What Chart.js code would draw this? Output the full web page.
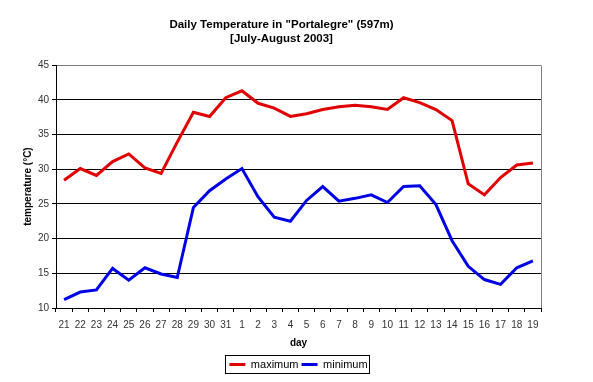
<!DOCTYPE html>
<html>
<head>
<meta charset="utf-8">
<script src="https://cdn.jsdelivr.net/npm/chart.js@4"></script>
<style>
  html, body { margin: 0; padding: 0; background: #fff; }
  #wrap { width: 593px; height: 382px; }
</style>
</head>
<body>
<div id="wrap"><canvas id="chart" width="593" height="382"></canvas></div>
<script>
'use strict';

const days = ['21', '22', '23', '24', '25', '26', '27', '28', '29', '30', '31',
  '1', '2', '3', '4', '5', '6', '7', '8', '9', '10',
  '11', '12', '13', '14', '15', '16', '17', '18', '19'];

const maximum = [28.4, 30.1, 29.1, 31.1, 32.2, 30.2, 29.4, 33.9, 38.2, 37.6, 40.3,
  41.3, 39.5, 38.8, 37.6, 38.0, 38.6, 39.0, 39.2, 39.0, 38.6,
  40.3, 39.6, 38.6, 37.0, 27.9, 26.3, 28.8, 30.6, 30.9];

const minimum = [11.2, 12.3, 12.6, 15.7, 14.0, 15.8, 14.9, 14.4, 24.5, 26.9, 28.6,
  30.1, 26.0, 23.1, 22.5, 25.5, 27.5, 25.4, 25.8, 26.3, 25.2,
  27.5, 27.6, 24.9, 19.7, 16.0, 14.1, 13.4, 15.8, 16.8];

const yMin = 10;
const yMax = 45;
const yStep = 5;

let canvasElem = document.getElementById('chart');

// plot frame on the right + legend centred under the plot with a box round it
const framePlugin = {
  id: 'frame',
  beforeDraw(chart) {
    const legend = chart.legend;
    const a = chart.chartArea;
    const shift = (a.left + a.right) / 2 - (legend.left + legend.right) / 2;
    legend.left += shift;
    legend.right += shift;
  },
  afterDraw(chart) {
    const ctx = chart.ctx;
    const a = chart.chartArea;
    ctx.save();
    ctx.strokeStyle = '#808080';
    ctx.lineWidth = 1;
    ctx.beginPath();
    ctx.moveTo(Math.round(a.right) + 0.5, Math.round(a.top) + 0.5);
    ctx.lineTo(Math.round(a.right) + 0.5, Math.round(a.bottom));
    ctx.stroke();

    const boxes = chart.legend.legendHitBoxes || [];
    if (boxes.length) {
      const pad = chart.legend.options.labels.padding;
      let total = 0, t = Infinity, b = -Infinity;
      boxes.forEach(h => {
        total += h.width;
        t = Math.min(t, h.top); b = Math.max(b, h.top + h.height);
      });
      total += pad * (boxes.length - 1);
      const l = (a.left + a.right) / 2 - total / 2;
      ctx.strokeStyle = '#000';
      ctx.strokeRect(Math.round(l) - 3.5, Math.round(t) - 3.5, Math.round(total) + 6, Math.round(b - t) + 7);
    }
    ctx.restore();
  }
};

const config = {
  type: 'line',
  data: {
    labels: days,
    datasets: [{
      label: 'maximum',
      data: maximum,
      borderColor: '#e00000',
      backgroundColor: '#e00000',
      borderWidth: 3,
      pointRadius: 0,
      tension: 0
    }, {
      label: 'minimum',
      data: minimum,
      borderColor: '#0000e6',
      backgroundColor: '#0000e6',
      borderWidth: 3,
      pointRadius: 0,
      tension: 0
    }]
  },
  options: {
    responsive: false,
    animation: false,
    layout: { padding: { left: 22, right: 52, top: 0, bottom: 2 } },
    plugins: {
      title: {
        display: true,
        text: ['Daily Temperature in "Portalegre" (597m)', '[July-August 2003]'],
        color: '#000',
        font: { family: 'Arial, "Liberation Sans"', size: 11.5, weight: 'bold', lineHeight: 1.2 },
        padding: { top: 18, bottom: 19.5 }
      },
      legend: {
        position: 'bottom',
        labels: {
          usePointStyle: true,
          pointStyle: 'line',
          pointStyleWidth: 16,
          color: '#000',
          padding: 3,
          font: { family: 'Arial, "Liberation Sans"', size: 11 }
        }
      },
      tooltip: { enabled: false }
    },
    scales: {
      x: {
        offset: true,
        grid: {
          offset: true,
          drawOnChartArea: false,
          drawTicks: true,
          tickLength: 4,
          color: '#000'
        },
        border: { display: true, color: '#000', width: 1 },
        ticks: {
          color: '#333',
          maxRotation: 0,
          autoSkip: false,
          padding: 7,
          font: { family: 'Arial, "Liberation Sans"', size: 10 }
        },
        title: {
          display: true,
          text: 'day',
          color: '#000',
          font: { family: 'Arial, "Liberation Sans"', size: 10, weight: 'bold' },
          padding: { top: 6, bottom: 7 }
        },
        afterFit(scale) { scale.height = 48; }
      },
      y: {
        min: yMin,
        max: yMax,
        ticks: {
          stepSize: yStep,
          color: '#333',
          padding: 3,
          font: { family: 'Arial, "Liberation Sans"', size: 10 }
        },
        grid: {
          color: ctx => (ctx.tick && ctx.tick.value === yMax) ? '#808080' : '#000',
          tickColor: '#000',
          tickLength: 4,
          lineWidth: 1
        },
        border: { display: true, color: '#000', width: 1 },
        title: {
          display: true,
          text: 'temperature (°C)',
          color: '#000',
          font: { family: 'Arial, "Liberation Sans"', size: 10, weight: 'bold' },
          padding: { top: 0, bottom: 4 }
        },
        afterFit(scale) { scale.width = 34; }
      }
    }
  },
  plugins: [framePlugin]
};

new Chart(canvasElem, config);
</script>
</body>
</html>
